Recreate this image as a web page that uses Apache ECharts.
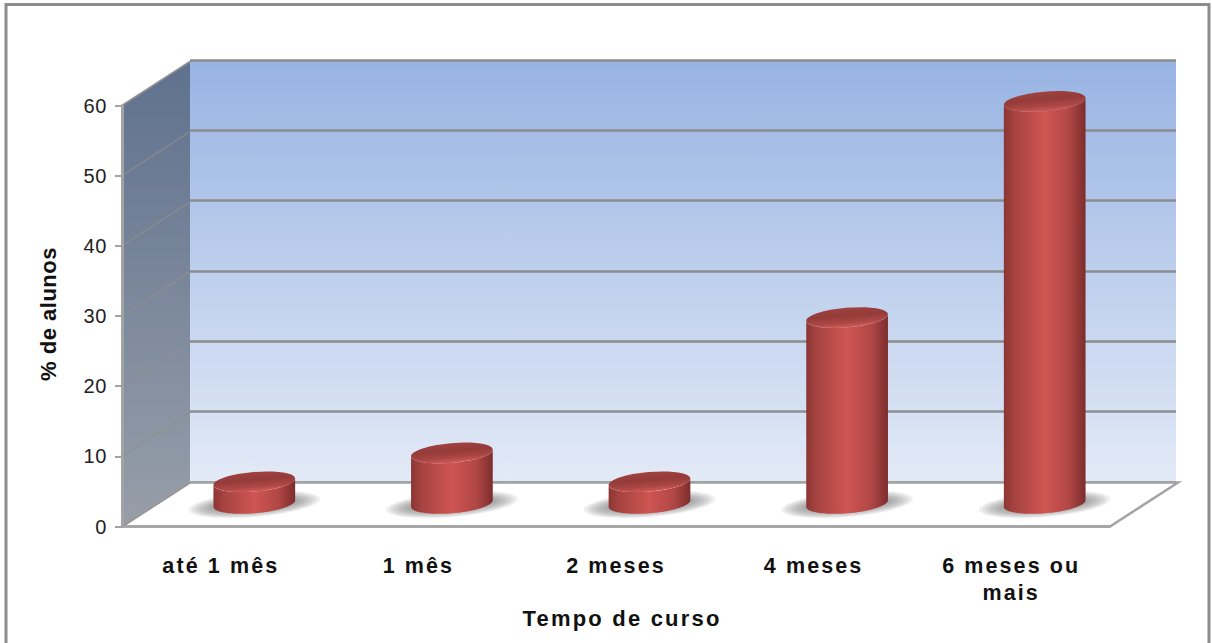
<!DOCTYPE html>
<html><head><meta charset="utf-8">
<style>html,body{margin:0;padding:0;background:#fff}#c{width:1212px;height:643px}</style>
<script src="https://cdn.jsdelivr.net/npm/echarts@6/dist/echarts.min.js"></script>
</head><body><div id="c"></div>
<script>
const categories = ['até 1 mês', '1 mês', '2 meses', '4 meses', '6 meses ou\nmais'];
const values = [3.1, 7.2, 3.1, 26.5, 57.3];
const yTicks = [0, 10, 20, 30, 40, 50, 60];
const xTitle = 'Tempo de curso';
const yTitle = '% de alunos';

const depthX = 68, depthY = 44;
const FONT = '"Liberation Sans", Arial, sans-serif';
const tilt = 0.085, rx = 41, ry = 9.8;

function grad(x, y, x2, y2, stops) {
  return { type: 'linear', x, y, x2, y2, colorStops: stops.map(s => ({ offset: s[0], color: s[1] })) };
}
function arcPts(cx, cy, t0, t1, n) {
  const out = [];
  for (let i = 0; i <= n; i++) {
    const t = t0 + (t1 - t0) * i / n;
    const ex = rx * Math.cos(t), ey = ry * Math.sin(t);
    out.push([cx + ex * Math.cos(tilt) + ey * Math.sin(tilt), cy - ex * Math.sin(tilt) + ey * Math.cos(tilt)]);
  }
  return out;
}

function renderFloorWall(params, api) {
  const cs = params.coordSys;
  const y0 = api.coord([0, 0])[1], yMax = api.coord([0, 60])[1];
  const xl = cs.x, xr = cs.x + cs.width;
  return { type: 'group', children: [
    { type: 'polygon', shape: { points: [[xl, y0], [xl + depthX, y0 - depthY], [xl + depthX, yMax - depthY], [xl, yMax]] },
      style: { fill: grad(0, 0, 0, 1, [[0, '#5f718e'], [1, '#979ea9']]), stroke: null } },
    { type: 'polygon', shape: { points: [[xl, y0], [xl + depthX, y0 - depthY], [xr + depthX, y0 - depthY], [xr, y0]] },
      style: { fill: '#ffffff', stroke: null } },
    { type: 'polyline', shape: { points: [[xl, y0], [xr, y0], [xr + depthX, y0 - depthY], [xl + depthX, y0 - depthY], [xl, y0]] },
      style: { fill: null, stroke: '#a3a3a3', lineWidth: 2.5 } }
  ] };
}
function renderWallLine(params, api) {
  const cs = params.coordSys;
  const y = api.coord([0, api.value(1)])[1];
  return { type: 'line', shape: { x1: cs.x, y1: y, x2: cs.x + depthX, y2: y - depthY },
    style: { stroke: '#8f8f8f', lineWidth: 1.5, opacity: api.value(1) === 60 ? 1 : 0.7 } };
}
function renderBar(params, api) {
  const p0 = api.coord([api.value(0), 0]);
  const p1 = api.coord([api.value(0), api.value(1)]);
  const cx = p0[0] + depthX / 2 - 0.5, by = p0[1] - depthY / 2 - 1, ty = p1[1] - depthY / 2 - 1;
  const body = arcPts(cx, by, 0, Math.PI, 48).concat(arcPts(cx, ty, Math.PI, 0, 48));
  const shadow = [];
  for (let k = 0; k < 8; k++) {
    shadow.push({ type: 'ellipse', x: cx, y: by + 1, rotation: tilt,
      shape: { cx: 0, cy: 0, rx: 66 - k * 3.5, ry: 12.5 - k * 1 },
      style: { fill: 'rgba(100,100,100,0.105)', stroke: null } });
  }
  return { type: 'group', children: shadow.concat([
    { type: 'polygon', shape: { points: body },
      style: { fill: grad(0, 0, 1, 0, [[0, '#8b3533'], [0.12, '#a54340'], [0.5, '#cf5552'], [0.8, '#b04745'], [1, '#7c2d2c']]), stroke: null } },
    { type: 'ellipse', x: cx, y: ty, rotation: tilt, shape: { cx: 0, cy: 0, rx: rx, ry: ry },
      style: { fill: grad(0, 0, 0, 1, [[0, '#a04240'], [0.4, '#943b39'], [0.75, '#ac4744'], [0.96, '#cb5754'], [1, '#c25350']]), stroke: null } }
  ]) };
}

const chart = echarts.init(document.getElementById('c'), null, { renderer: 'svg' });
chart.setOption({
  animation: false,
  backgroundColor: '#ffffff',
  graphic: [{ type: 'rect', silent: true, shape: { x: 6, y: 4.5, width: 1203, height: 680 },
    style: { fill: null, stroke: '#8c8c8c', lineWidth: 3 } }],
  grid: [
    { left: 122, top: 105.5, width: 988, height: 421, containLabel: false },
    { left: 190, top: 60, width: 986, height: 422, show: true, borderWidth: 0,
      backgroundColor: grad(0, 0, 0, 1, [[0, '#98b4e3'], [1, '#e3eaf7']]) }
  ],
  xAxis: [
    { type: 'category', gridIndex: 0, data: categories, z: 6,
      axisLine: { show: true, lineStyle: { color: '#a3a3a3', width: 2.5 } }, axisTick: { show: false },
      axisLabel: { margin: 26, interval: 0, color: '#111', fontFamily: FONT, fontWeight: 'bold', fontSize: 21.5, lineHeight: 27 },
      name: xTitle, nameLocation: 'middle', nameGap: 81, nameMoveOverlap: false,
      nameTextStyle: { color: '#111', fontFamily: FONT, fontWeight: 'bold', fontSize: 22, padding: [0, 0, 0, 12] } },
    { type: 'category', gridIndex: 1, data: categories, axisLine: { show: false }, axisTick: { show: false }, axisLabel: { show: false } }
  ],
  yAxis: [
    { type: 'value', gridIndex: 0, min: 0, max: 60, interval: 10, z: 6,
      splitLine: { show: false },
      axisLine: { show: true, lineStyle: { color: '#a3a3a3', width: 3 } },
      axisTick: { show: true, length: 7, lineStyle: { color: '#a3a3a3', width: 2 } },
      axisLabel: { margin: 15, color: '#222', fontFamily: FONT, fontSize: 20, padding: [4, 0, 0, 0] },
      name: yTitle, nameLocation: 'middle', nameGap: 63, nameRotate: 90,
      nameTextStyle: { color: '#111', fontFamily: FONT, fontWeight: 'bold', fontSize: 22, padding: [0, 0, 0, 4] } },
    { type: 'value', gridIndex: 1, min: 0, max: 60, interval: 10,
      axisLine: { show: false }, axisTick: { show: false }, axisLabel: { show: false },
      splitLine: { show: true, lineStyle: { color: '#8c8c8c', width: 2.5 } } }
  ],
  series: [
    { type: 'custom', name: 'wall', xAxisIndex: 0, yAxisIndex: 0, z: 3, silent: true, clip: false,
      data: [[0, 0]], renderItem: renderFloorWall },
    { type: 'custom', name: 'wallLines', xAxisIndex: 0, yAxisIndex: 0, z: 4, silent: true, clip: false,
      data: yTicks.map(v => [0, v]), renderItem: renderWallLine },
    { type: 'custom', name: '% de alunos', xAxisIndex: 0, yAxisIndex: 0, z: 10, silent: true, clip: false,
      data: values.map((v, i) => [i, v]), renderItem: renderBar }
  ]
});
// The reference's text is letter-spaced; the SVG renderer lets CSS widen it.
document.querySelectorAll('#c svg text').forEach(function (t) {
  const s = t.textContent;
  let ls = 0;
  if (s === yTitle) ls = 0.5;
  else if (s === xTitle) ls = 2.2;
  else if (!/^\d+$/.test(s)) ls = 2.1;
  else ls = 0.6;
  t.style.letterSpacing = ls + 'px';
});
</script></body></html>
